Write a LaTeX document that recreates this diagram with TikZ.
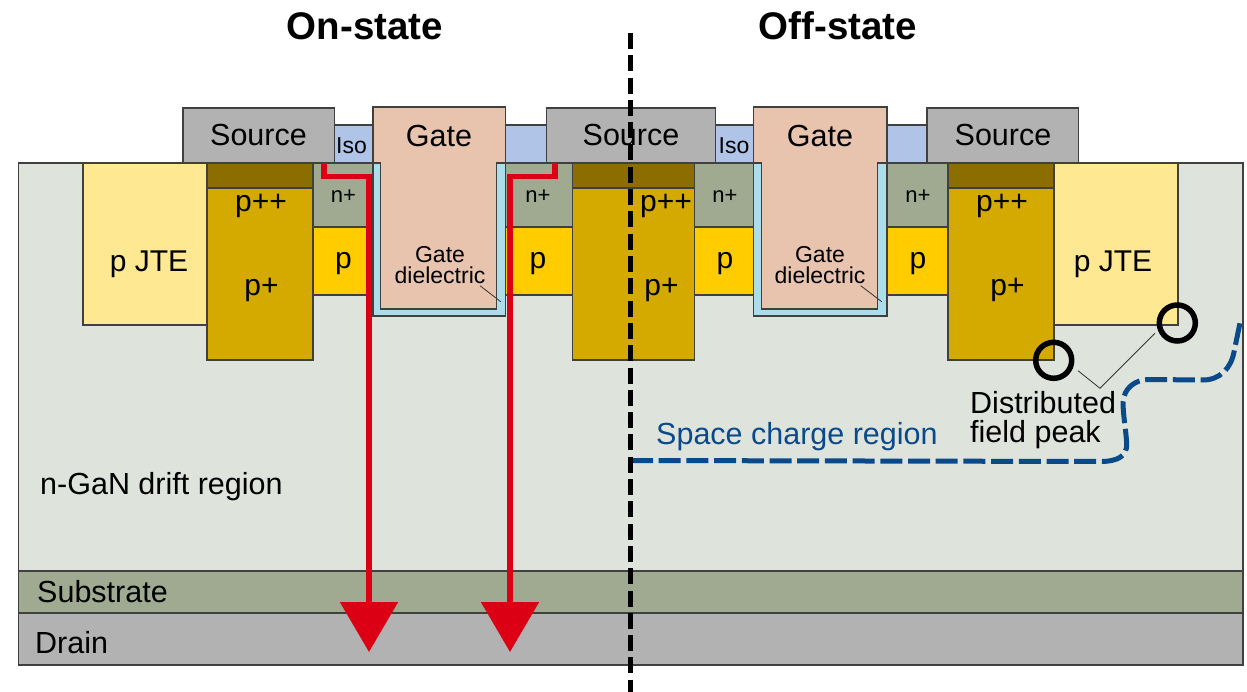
\documentclass[tikz,border=0pt]{standalone}
\usepackage{fontspec}
\setmainfont{Liberation Sans}
\usetikzlibrary{arrows.meta}
\definecolor{driftc}{HTML}{DEE3DC}
\definecolor{subc}{HTML}{9FAA91}
\definecolor{metalc}{HTML}{B2B2B2}
\definecolor{isoc}{HTML}{AFC4E6}
\definecolor{gatec}{HTML}{E8C4AE}
\definecolor{dielc}{HTML}{ACDDEB}
\definecolor{pc}{HTML}{FFCC00}
\definecolor{pplusc}{HTML}{D4A900}
\definecolor{ppplusc}{HTML}{8B6D00}
\definecolor{jtec}{HTML}{FFE892}
\definecolor{currentc}{HTML}{DC0014}
\definecolor{scrc}{HTML}{0B4A8A}
\newcommand{\fs}[1]{\fontsize{#1}{#1}\selectfont}
\begin{document}
\begin{tikzpicture}[x=1pt,y=-1pt,
layer/.style={draw=black!75,line width=1.1pt},
big/.style={inner sep=0pt,font=\fs{30.5}},
mid/.style={inner sep=0pt,font=\fs{30}},
iso/.style={inner sep=0pt,font=\fs{23}},
small/.style={inner sep=0pt,font=\fs{22}},
title/.style={inner sep=0pt,font=\fs{38.5}\bfseries},
current/.style={draw=currentc,line width=5.5pt,-{Triangle[width=57pt,length=50pt]},rounded corners=0pt},
leader/.style={draw=black!80,line width=0.8pt},
peak/.style={draw=black,line width=5.5pt}]
\useasboundingbox (0,0) rectangle (1247,692);
% substrate stack
\draw[layer,fill=driftc] (18.5,163) rectangle (1243,571);
\draw[layer,fill=subc] (18.5,571) rectangle (1243,613);
\draw[layer,fill=metalc] (18.5,613) rectangle (1243,665);
% implants
\foreach \xa/\xb/\xc in {83/207/313,1178/1054/948}{
\draw[layer,fill=jtec] (\xa,163) rectangle (\xb,325);
\draw[layer,fill=pplusc] (\xb,163) rectangle (\xc,360);
\draw[layer,fill=ppplusc] (\xb,163) rectangle (\xc,188);
}
\draw[layer,fill=pplusc] (572.5,163) rectangle (694.5,360);
\draw[layer,fill=ppplusc] (572.5,163) rectangle (694.5,188);
\foreach \xa/\xb in {313/373,505.5/572.5,694.5/753.7,887/948}{
\draw[layer,fill=subc] (\xa,163) rectangle (\xb,227);
\draw[layer,fill=pc] (\xa,227) rectangle (\xb,295);
}
% iso and source
\foreach \xa/\xb in {334.5/373,505.5/546.5,715.5/753.7,887/927}{
\draw[layer,fill=isoc] (\xa,125) rectangle (\xb,163);
}
\foreach \xa/\xb in {183/334.5,546.5/715.5,927/1078.5}{
\draw[layer,fill=metalc] (\xa,108) rectangle (\xb,163);
}
% trench gates
\foreach \xa/\xb/\xc/\xd in {373/380.7/496.7/505.5,753.7/761.7/877.7/887}{
\draw[layer,fill=dielc] (\xa,163) rectangle (\xd,316);
\draw[layer,fill=gatec] (\xa,163) -- (\xa,107) -- (\xd,107) -- (\xd,163) -- (\xc,163) -- (\xc,309) -- (\xb,309) -- (\xb,163) -- cycle;
}
% labels
\node[big] (source1) at (258.5,135) {Source};
\node[big] (source2) at (631,135) {Source};
\node[big] (source3) at (1003,135) {Source};
\node[big] (gate1) at (439,136) {Gate};
\node[big] (gate2) at (820,136) {Gate};
\node[iso] (iso1) at (351.5,146) {Iso};
\node[iso] (iso2) at (734,146) {Iso};
\node[small] (nplus1) at (343.5,196) {n+};
\node[small] (nplus2) at (538,196) {n+};
\node[small] (nplus3) at (725,196) {n+};
\node[small] (nplus4) at (918,196) {n+};
\node[mid] (p1) at (343.5,264) {p};
\node[mid] (p2) at (538,264) {p};
\node[mid] (p3) at (725,264) {p};
\node[mid] (p4) at (918,264) {p};
\node[mid] (ppp1) at (261,206) {p++};
\node[mid] (ppp2) at (666,206) {p++};
\node[mid] (ppp3) at (1002,206) {p++};
\node[mid] (pp1) at (261.5,290) {p+};
\node[mid] (pp2) at (661.5,290) {p+};
\node[mid] (pp3) at (1007.5,290) {p+};
\node[mid] (jte1) at (149,264) {p JTE};
\node[mid] (jte2) at (1113,264) {p JTE};
\node[iso,align=center] (diel1) at (440,265) {Gate\\[-2pt]dielectric};
\node[iso,align=center] (diel2) at (820,265) {Gate\\[-2pt]dielectric};
\node[big,anchor=west] (drift) at (40,487) {n-GaN drift region};
\node[big,anchor=west] (substrate) at (37,592) {Substrate};
\node[big,anchor=west] (drain) at (35,643) {Drain};
\node[big,anchor=west,text=scrc] (scr) at (656,437) {Space charge region};
\node[big,align=left,anchor=west] (peaktext) at (970,420) {Distributed\\[-2pt]field peak};
\node[title] (onstate) at (365,26) {On-state};
\node[title] (offstate) at (838,26) {Off-state};
% gate dielectric leaders
\coordinate (lead1a) at (480,285.7);
\coordinate (lead1b) at (500.7,301.7);
\coordinate (lead2a) at (860.7,285.7);
\coordinate (lead2b) at (881.7,301.7);
\draw[leader] (lead1a) -- (lead1b);
\draw[leader] (lead2a) -- (lead2b);
% field peaks
\node[peak,circle,minimum size=36pt,inner sep=0pt] (peak1) at (1053.7,360.3) {};
\node[peak,circle,minimum size=36pt,inner sep=0pt] (peak2) at (1177.3,323) {};
\coordinate (fork) at (1100,388.3);
\draw[leader] (1078,370.7) -- (fork) -- (1155,333.3);
% current paths
\coordinate (tip1) at (369,652);
\coordinate (tip2) at (510,652);
\draw[current] (324,163) -- (324,176.7) -- (369,176.7) -- (tip1);
\draw[current] (555,163) -- (555,176.7) -- (510,176.7) -- (tip2);
% space charge edge
\draw[draw=scrc,line width=5pt,dash pattern=on 22pt off 5.7pt] (631,460.5) -- (1100,461.5)
.. controls (1118,461.5) and (1127,456) .. (1126.7,444)
.. controls (1126,430) and (1123,415) .. (1123,402)
.. controls (1124,388) and (1135,380) .. (1148,379.5)
-- (1203,380)
.. controls (1220,380) and (1231,368) .. (1234,352)
-- (1241,318);
% divider
\draw[line width=5.5pt,dash pattern=on 16pt off 6.3pt] (630.5,33) -- (630.5,692);
\end{tikzpicture}
\end{document}
